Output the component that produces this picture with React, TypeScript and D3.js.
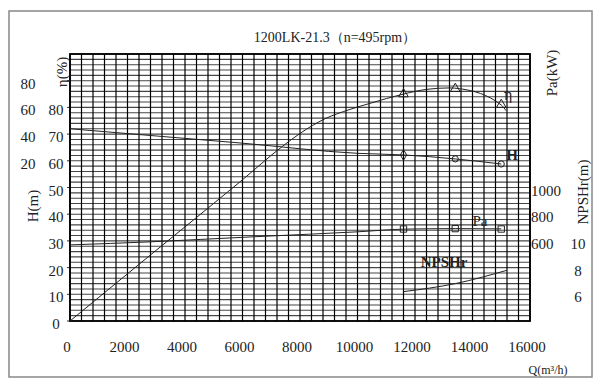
import React from "react";
import * as d3 from "d3";

// flow Q (m3/h) and the curves
const etaQ = [0, 2800, 5900, 7400, 8000, 8870, 9740, 10430, 11600, 12400, 13200, 13560, 15000, 15170];
const etaVal = [-100, -50.5, 4, 31, 40.5, 51.5, 58.5, 63, 70, 73.5, 74.6, 74, 61.8, 57.5];

const headQ = [0, 3000, 6000, 10000, 11600, 13400, 15000];
const headVal = [72, 69.3, 66.6, 62.8, 62.2, 60.7, 58.8];

const powerQ = [0, 2800, 6300, 8300, 10000, 11600, 13400, 15000];
const powerVal = [570, 593, 630, 650, 668, 688, 692, 690];

const npshQ = [11600, 13400, 15200];
const npshVal = [6.2, 6.8, 7.8];

// marker points
const markQ = [11600, 13400, 15000];
const etaMarks = [70, 74, 62];
const headMarks = [62.2, 60.7, 58.8];
const powerMarks = [689, 692, 689];

// tick labels
const qTicks = [0, 2000, 4000, 6000, 8000, 10000, 12000, 14000, 16000];
const headTicks = [0, 10, 20, 30, 40, 50, 60, 70, 80];
const etaTicks = [20, 40, 60, 80];
const powerTicks = [600, 800, 1000];
const npshTicks = [6, 8, 10];

const title = "1200LK-21.3（n=495rpm）";

const font = "'Liberation Serif', 'DejaVu Serif', serif";

export default function App() {
  const W = 600, H = 386;
  const left = 70, right = 530, top = 54, bottom = 321;

  const x = d3.scaleLinear().domain([0, 16000]).range([left, right]);
  const yH = d3.scaleLinear().domain([0, 100]).range([bottom, top]);
  // other units hang on the head grid
  const yEta = d3.scaleLinear().domain([0, 100]).range([yH(50), yH(100)]);
  const yPa = d3.scaleLinear().domain([600, 1000]).range([yH(30), yH(50)]);
  const yNp = d3.scaleLinear().domain([6, 10]).range([yH(10), yH(30)]);

  const mk = (qs: number[], vs: number[], ys: d3.ScaleLinear<number, number>) =>
    d3.line<number>()
      .x((d) => x(qs[d]))
      .y((d) => ys(vs[d]))
      .curve(d3.curveMonotoneX)(d3.range(qs.length)) as string;

  const vLines = d3.range(0, 16001, 400);
  const hLines = d3.range(0, 101, 2);

  const tri = d3.symbol().type(d3.symbolTriangle).size(40)() as string;
  const sq = d3.symbol().type(d3.symbolSquare).size(40)() as string;
  const dia = d3.symbol().type(d3.symbolDiamond).size(34)() as string;
  const circ = d3.symbol().type(d3.symbolCircle).size(30)() as string;

  return (
    <svg width={W} height={H} style={{ position: "absolute", left: 0, top: 0, background: "#fff" }}
      fontFamily={font}>
      <rect x={9} y={11} width={583} height={366} fill="#fff" stroke="#888" strokeWidth={1.5} />
      <text x={335} y={42} textAnchor="middle" fontSize={14} fill="#222">{title}</text>

      {/* grid */}
      <g>
        {hLines.map((h) => (
          <line key={"h" + h} x1={left} x2={right} y1={yH(h)} y2={yH(h)} stroke="#474747" strokeWidth={1.1} />
        ))}
        {vLines.map((q) => (
          <line key={"v" + q} x1={x(q)} x2={x(q)} y1={top} y2={bottom} stroke="#000" strokeWidth={1.2} />
        ))}
        {headTicks.concat([90]).map((h) => (
          <line key={"t" + h} x1={left - 3} x2={left} y1={yH(h)} y2={yH(h)} stroke="#333" />
        ))}
        <rect x={left} y={top} width={right - left} height={bottom - top} fill="none" stroke="#000" strokeWidth={1.8} />
      </g>

      {/* axis labels */}
      <g fontSize={15} fill="#222">
        {qTicks.map((q) => (
          <text key={"q" + q} x={x(q) - 3} y={352} textAnchor="middle">{q}</text>
        ))}
        {headTicks.map((h) => (
          <text key={"hl" + h} x={56} y={yH(h) + 8} textAnchor="middle">{h}</text>
        ))}
        {etaTicks.map((e) => (
          <text key={"el" + e} x={28} y={yEta(e) + 8} textAnchor="middle">{e}</text>
        ))}
        {powerTicks.map((p) => (
          <text key={"pl" + p} x={531} y={yPa(p) + 8}>{p}</text>
        ))}
        {npshTicks.map((n) => (
          <text key={"nl" + n} x={578} y={yNp(n) + 8} textAnchor="middle">{n}</text>
        ))}
        <text transform="translate(67,72) rotate(-90)" textAnchor="middle">η(%)</text>
        <text transform="translate(38,206) rotate(-90)" textAnchor="middle">H(m)</text>
        <text transform="translate(557,73) rotate(-90)" textAnchor="middle">Pa(kW)</text>
        <text transform="translate(588,192) rotate(-90)" textAnchor="middle">NPSHr(m)</text>
        <text x={548} y={374} textAnchor="middle" fontSize={12}>Q(m³/h)</text>
      </g>

      {/* curves */}
      <g fill="none" stroke="#222" strokeWidth={1}>
        <path d={mk(etaQ, etaVal, yEta)} />
        <path d={mk(headQ, headVal, yH)} />
        <path d={mk(powerQ, powerVal, yPa)} />
        <path d={mk(npshQ, npshVal, yNp)} />
      </g>

      {/* markers */}
      <g fill="none" stroke="#222" strokeWidth={1}>
        {markQ.map((q, i) => (
          <path key={"me" + i} d={tri} transform={`translate(${x(q)},${yEta(etaMarks[i])})`} />
        ))}
        {markQ.map((q, i) => (
          <path key={"mh" + i} d={i === 0 ? dia : circ} transform={`translate(${x(q)},${yH(headMarks[i])})`} />
        ))}
        {markQ.map((q, i) => (
          <path key={"mp" + i} d={sq} transform={`translate(${x(q)},${yPa(powerMarks[i])})`} />
        ))}
      </g>

      {/* curve names */}
      <g fill="#222" fontSize={15}>
        <text x={508} y={100} textAnchor="middle" fontFamily="'DejaVu Serif', serif" fontSize={14}>η</text>
        <text x={512} y={160} textAnchor="middle" fontWeight="bold">H</text>
        <text x={480} y={226} textAnchor="middle">Pa</text>
        <text x={444} y={267} textAnchor="middle" fontWeight="bold">NPSHr</text>
      </g>
    </svg>
  );
}
